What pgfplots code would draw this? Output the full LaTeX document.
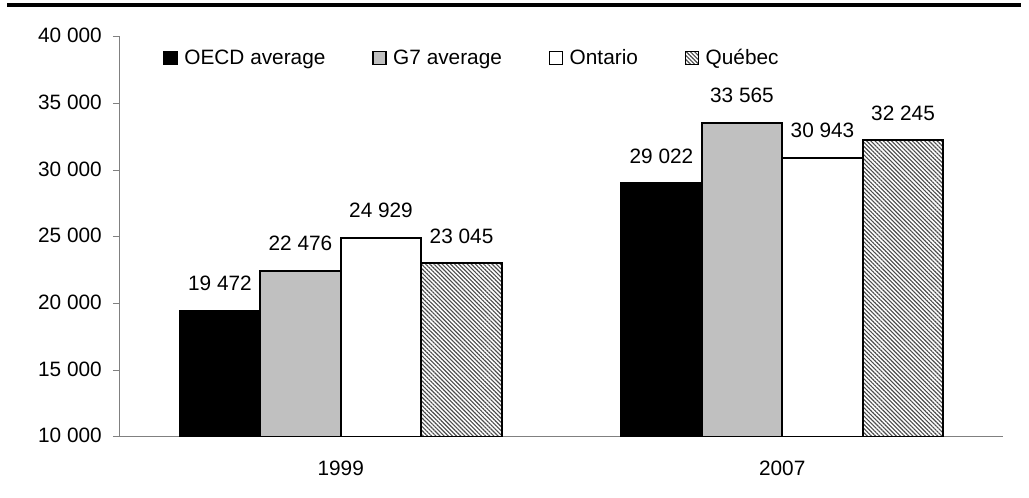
\documentclass[border=0pt]{standalone}
\usepackage{pgfplots}
\pgfplotsset{compat=1.18}
\usepackage{fontspec}
\setmainfont{Liberation Sans}
\usetikzlibrary{patterns.meta}
\definecolor{gseven}{RGB}{192,192,192}
\definecolor{axgray}{RGB}{128,128,128}
\begin{document}
\begin{tikzpicture}[font=\fontsize{15.6}{18}\selectfont]
\useasboundingbox (0pt,0pt) rectangle (771.75pt,373.5pt);
\draw[line width=3pt] (5.25pt,369.5pt) -- (765.75pt,369.5pt);
\begin{axis}[
  at={(90pt,45.75pt)}, anchor=south west,
  scale only axis, width=662.25pt, height=300pt,
  xmin=-0.5, xmax=1.5, ymin=10000, ymax=40000,
  scaled y ticks=false,
  ytick={10000,15000,20000,25000,30000,35000,40000},
  yticklabels={10 000,15 000,20 000,25 000,30 000,35 000,40 000},
  xtick={0,1}, xticklabels={1999,2007},
  axis lines*=left,
  axis line style={draw=axgray, line width=0.75pt},
  tick align=outside, major tick length=5.25pt,
  ytick style={draw=axgray, line width=0.75pt},
  xtick style={draw=none},
  yticklabel style={anchor=base east, inner xsep=0pt, xshift=-8.25pt, yshift=-4.5pt},
  xticklabel style={anchor=base, yshift=-24pt},
  ybar=0pt, bar width=60.4pt,
  nodes near coords, point meta=explicit symbolic,
  every node near coord/.append style={anchor=base, yshift=15pt, text=black},
  legend style={draw=none, fill=none, at={(0.0487,0.9475)}, anchor=west,
    legend columns=-1, inner xsep=0pt,
    /tikz/every odd column/.append style={column sep=3pt},
    /tikz/every even column/.append style={column sep=33pt}},
  legend image code/.code={\draw[#1, line width=1.1pt] (0pt,-4.9pt) rectangle (9.75pt,4.9pt);},
]
\addplot[fill=black, draw=black, line width=1.5pt] coordinates {(0,19472) [19 472] (1,29022) [29 022]};
\addplot[fill=gseven, draw=black, line width=1.5pt] coordinates {(0,22476) [22 476] (1,33565) [33 565]};
\addplot[fill=white, draw=black, line width=1.5pt] coordinates {(0,24929) [24 929] (1,30943) [30 943]};
\addplot[pattern={Lines[angle=-45,distance=2.2pt,line width=0.85pt]}, pattern color=black!70, draw=black, line width=1.5pt] coordinates {(0,23045) [23 045] (1,32245) [32 245]};
\legend{OECD average, G7 average, Ontario, Québec}
\end{axis}
\end{tikzpicture}
\end{document}
